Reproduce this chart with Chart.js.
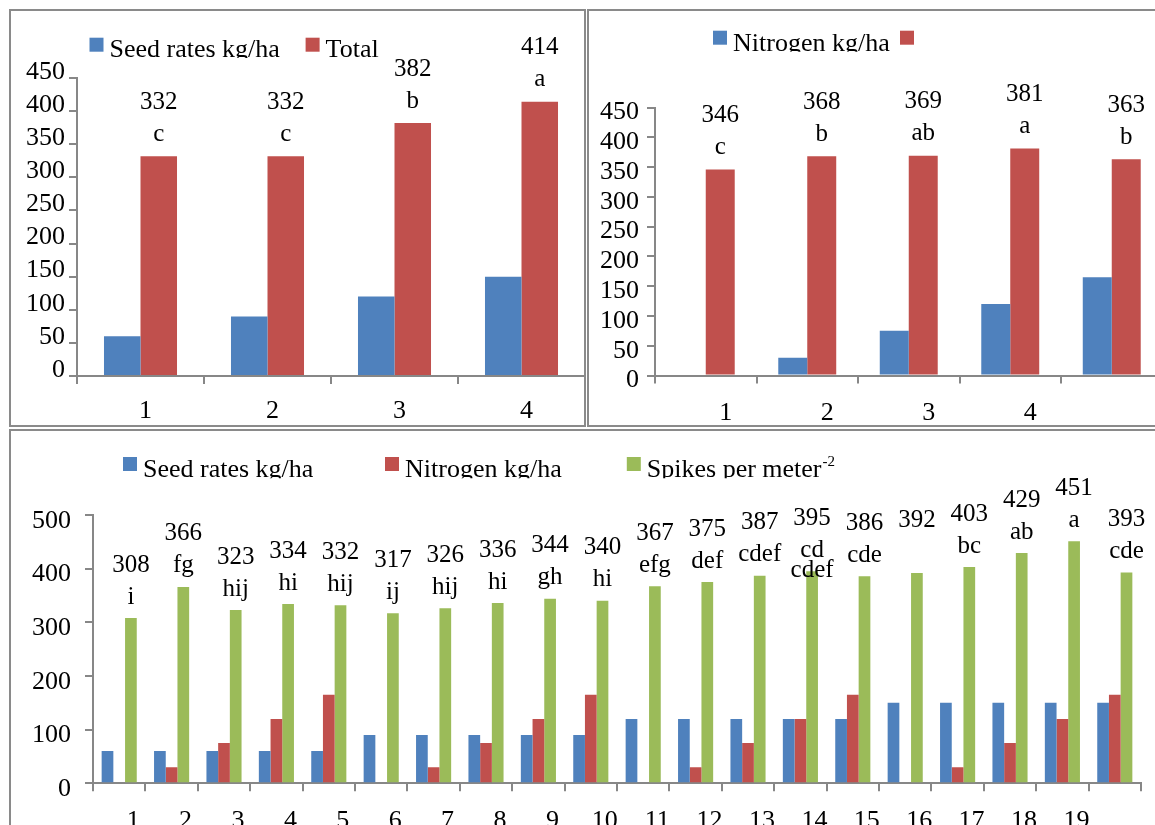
<!DOCTYPE html>
<html>
<head>
<meta charset="utf-8">
<script src="https://cdn.jsdelivr.net/npm/chart.js@4"></script>
<style>
  html, body { margin: 0; padding: 0; background: #fff; overflow: hidden; }
  #page { position: relative; width: 1155px; height: 825px; overflow: hidden; }
  canvas { position: absolute; }
  .frame { position: absolute; border: 2px solid #8a8a8a; box-sizing: border-box; pointer-events: none; }
</style>
</head>
<body>
<div id="page">
  <canvas id="seedChart" width="575" height="415" style="left:10px;top:10px"></canvas>
  <canvas id="nitroChart" width="600" height="415" style="left:589px;top:10px"></canvas>
  <canvas id="comboChart" width="1144" height="440" style="left:11px;top:431px"></canvas>
  <div class="frame" style="left:9px;top:9px;width:577px;height:418px"></div>
  <div class="frame" style="left:587px;top:9px;width:620px;height:418px"></div>
  <div class="frame" style="left:9px;top:429px;width:1200px;height:500px"></div>
</div>
<script>
// seed rate panel
const seedCategories = ["1", "2", "3", "4"];
const seedRates = [60, 90, 120, 150];
const seedTotal = [332, 332, 382, 414];
const seedLetters = ["c", "c", "b", "a"];

// nitrogen panel
const nitroCategories = ["1", "2", "3", "4", ""];
const nitroRates = [0, 30, 75, 120, 165];
const nitroTotal = [346, 368, 369, 381, 363];
const nitroLetters = ["c", "b", "ab", "a", "b"];

// combined panel
const comboCategories = ["1", "2", "3", "4", "5", "6", "7", "8", "9", "10",
  "11", "12", "13", "14", "15", "16", "17", "18", "19", ""];
const comboSeed = [60, 60, 60, 60, 60, 90, 90, 90, 90, 90,
  120, 120, 120, 120, 120, 150, 150, 150, 150, 150];
const comboNitrogen = [0, 30, 75, 120, 165, 0, 30, 75, 120, 165,
  0, 30, 75, 120, 165, 0, 30, 75, 120, 165];
const spikes = [308, 366, 323, 334, 332, 317, 326, 336, 344, 340,
  367, 375, 387, 395, 386, 392, 403, 429, 451, 393];
const spikeLetters = ["i", "fg", "hij", "hi", "hij", "ij", "hij", "hi", "gh", "hi",
  "efg", "def", "cdef", "cd\ncdef", "cde", "", "bc", "ab", "a", "cde"];

const BLUE = "#4F81BD";
const RED = "#C0504D";
const GREEN = "#9BBB59";
const AXIS = "#878787";
const SERIF = "'Liberation Serif', 'Times New Roman', serif";

// legend drawn by hand so it can sit (and get cut) like the original
const sheetLegend = {
  id: "sheetLegend",
  afterDraw(chart, args, opts) {
    const c = chart.ctx;
    c.save();
    c.beginPath();
    c.rect(0, 0, chart.width, opts.baseline + 1);
    c.clip();
    c.textAlign = "left";
    c.textBaseline = "alphabetic";
    chart.data.datasets.forEach((ds, i) => {
      const x = opts.xs[i];
      c.fillStyle = ds.backgroundColor;
      c.fillRect(x, opts.boxTop, 14, 14);
      c.fillStyle = "#000";
      c.font = "26px " + SERIF;
      const parts = ds.label.split("^");
      c.fillText(parts[0], x + 20, opts.baseline);
      if (parts[1]) {
        const w = c.measureText(parts[0]).width;
        c.font = "15px " + SERIF;
        c.fillText(parts[1], x + 21 + w, opts.baseline - 11);
      }
    });
    c.restore();
  }
};

// value + letter(s) above the chosen series; extra letter lines sit lower
const barNotes = {
  id: "barNotes",
  afterDatasetsDraw(chart, args, opts) {
    const meta = chart.getDatasetMeta(opts.dataset);
    const values = chart.data.datasets[opts.dataset].data;
    const c = chart.ctx;
    c.save();
    c.font = "25px " + SERIF;
    c.fillStyle = "#000";
    c.textAlign = "center";
    c.textBaseline = "middle";
    meta.data.forEach((bar, i) => {
      c.fillText(String(values[i]), bar.x, bar.y - opts.first - opts.step);
      opts.letters[i].split("\n").forEach((t, k) => {
        c.fillText(t, bar.x, bar.y - opts.first + k * 20);
      });
    });
    c.restore();
  }
};

function makeChart(id, cfg) {
  const ctx = document.getElementById(id).getContext("2d");
  return new Chart(ctx, {
    type: "bar",
    data: {
      labels: cfg.labels,
      datasets: cfg.series.map((s) => ({
        label: s.label,
        data: s.data,
        backgroundColor: s.color,
        borderWidth: 0,
        categoryPercentage: cfg.catPct,
        barPercentage: 1
      }))
    },
    options: {
      responsive: false,
      animation: false,
      layout: { padding: { top: cfg.top, right: cfg.right, left: 0, bottom: 0 } },
      plugins: {
        legend: { display: false },
        tooltip: { enabled: false },
        sheetLegend: cfg.legend,
        barNotes: cfg.notes
      },
      scales: {
        x: {
          grid: { drawOnChartArea: false, tickLength: 8, color: AXIS, lineWidth: 2, offset: true },
          border: { color: AXIS, width: 2 },
          ticks: {
            color: "#000",
            font: { family: SERIF, size: 26 },
            padding: cfg.xPad,
            labelOffset: cfg.xShift,
            maxRotation: 0,
            autoSkip: false
          },
          afterFit: (s) => { s.height = cfg.xHeight; }
        },
        y: {
          min: 0,
          max: cfg.max,
          grid: { drawOnChartArea: false, tickLength: 8, color: AXIS, lineWidth: 2 },
          border: { color: AXIS, width: 2 },
          ticks: {
            stepSize: cfg.step,
            autoSkip: false,
            color: "#000",
            font: { family: SERIF, size: 26 },
            padding: cfg.yPad,
            labelOffset: cfg.yShift
          },
          afterFit: (s) => { s.width = cfg.yWidth; }
        }
      }
    },
    plugins: [sheetLegend, barNotes]
  });
}

makeChart("seedChart", {
  labels: seedCategories,
  series: [
    { label: "Seed rates kg/ha", data: seedRates, color: BLUE },
    { label: "Total", data: seedTotal, color: RED }
  ],
  catPct: 0.575,
  top: 68, right: 0, yWidth: 67, xHeight: 49,
  max: 450, step: 50,
  xPad: 12, xShift: 5, yPad: 4, yShift: -6,
  legend: { xs: [79.5, 295.6], boxTop: 27.7, baseline: 47 },
  notes: { dataset: 1, letters: seedLetters, first: 22, step: 32 }
});

makeChart("nitroChart", {
  labels: nitroCategories,
  series: [
    { label: "Nitrogen kg/ha", data: nitroRates, color: BLUE },
    { label: "", data: nitroTotal, color: RED }
  ],
  catPct: 0.571,
  top: 97.5, right: 26.5, yWidth: 66, xHeight: 49.5,
  max: 450, step: 50,
  xPad: 14, xShift: 20, yPad: 8, yShift: 5,
  legend: { xs: [124, 311], boxTop: 20.7, baseline: 40.7 },
  notes: { dataset: 1, letters: nitroLetters, first: 22, step: 32 }
});

makeChart("comboChart", {
  labels: comboCategories,
  series: [
    { label: "Seed rates kg/ha", data: comboSeed, color: BLUE },
    { label: "Nitrogen kg/ha", data: comboNitrogen, color: RED },
    { label: "Spikes per meter^-2", data: spikes, color: GREEN }
  ],
  catPct: 0.67,
  top: 84, right: 14, yWidth: 82, xHeight: 87.7,
  max: 500, step: 100,
  xPad: 14, xShift: 14, yPad: 14, yShift: 6,
  legend: { xs: [112, 374, 615.8], boxTop: 26, baseline: 46.3 },
  notes: { dataset: 2, letters: spikeLetters, first: 21, step: 32 }
});
</script>
</body>
</html>
